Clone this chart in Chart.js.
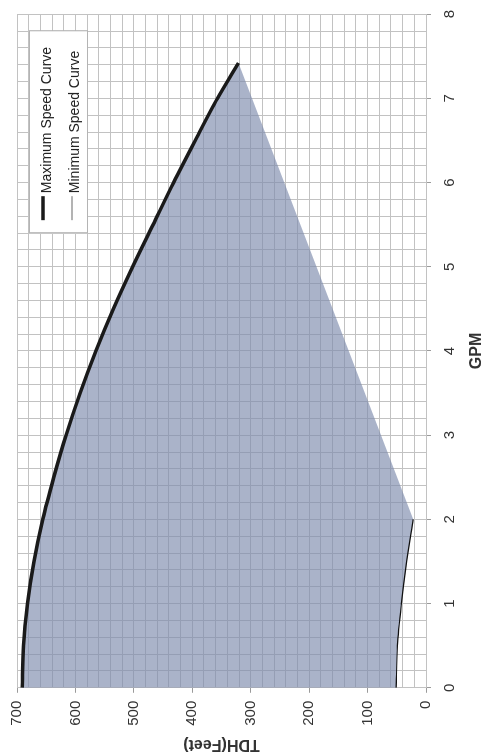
<!DOCTYPE html>
<html>
<head>
<meta charset="utf-8">
<title>Pump curve</title>
<script src="https://cdn.jsdelivr.net/npm/chart.js@4/dist/chart.umd.min.js"></script>
<style>
  html, body { margin: 0; padding: 0; background: #fff; overflow: hidden; }
  /* chart is drawn landscape, then turned a quarter to the left */
  #wrap {
    position: absolute; left: 0; top: 0; width: 755px; height: 485px;
    transform-origin: 0 0; transform: translate(0, 755px) rotate(-90deg);
  }
</style>
</head>
<body>
<div id="wrap"><canvas id="pumpChart" width="755" height="485"></canvas></div>
<script>
// data
const maxGpm = [0, 0.5, 1, 1.5, 2, 2.5, 3, 3.5, 4, 4.5, 5, 5.5, 6, 6.5, 7, 7.42];
const maxTdh = [691, 689, 682, 671, 656, 637, 616, 592, 565, 535, 502, 467, 432, 395, 357, 321];
const minGpm = [0, 0.5, 1, 1.5, 2];
const minTdh = [51, 49, 42, 33, 22];
const seriesLabels = ["Maximum Speed Curve", "Minimum Speed Curve"];
const gpmTicks = [0, 1, 2, 3, 4, 5, 6, 7, 8];
const tdhTicks = [0, 100, 200, 300, 400, 500, 600, 700];

const FONT = '"Liberation Sans", Arial, sans-serif';
const GRID = "#c2c2c2";

const toPoints = (xs, ys) => xs.map((x, i) => ({ x: x, y: ys[i] }));
const maxPts = toPoints(maxGpm, maxTdh);
const minPts = toPoints(minGpm, minTdh);
// operating region: along min curve, straight up to the end of max curve, back along max curve
const regionPts = minPts.concat(maxPts.slice().reverse());

const isMajor = (v, list) => list.some((t) => Math.abs(t - v) < 1e-6);

const legendBox = {
  id: "legendBox",
  afterDatasetsDraw(chart) {
    const { ctx, chartArea } = chart;
    const w = 202, h = 58;
    const x = chartArea.right - 17 - w;
    const y = chartArea.top + 12;
    ctx.save();
    ctx.fillStyle = "#fff";
    ctx.fillRect(x, y, w, h);
    ctx.strokeStyle = "#b4b4b4";
    ctx.lineWidth = 1;
    ctx.strokeRect(x + 0.5, y + 0.5, w, h);
    const styles = [
      { color: "#1a1a1a", width: 3.5 },
      { color: "#808080", width: 1.2 },
    ];
    ctx.font = "14px " + FONT;
    ctx.textBaseline = "middle";
    seriesLabels.forEach((lbl, i) => {
      const ly = y + 14 + i * 29;
      ctx.strokeStyle = styles[i].color;
      ctx.lineWidth = styles[i].width;
      ctx.beginPath();
      ctx.moveTo(x + 13, ly);
      ctx.lineTo(x + 37, ly);
      ctx.stroke();
      ctx.fillStyle = "#222";
      ctx.fillText(lbl, x + 40, y + 18 + i * 28);
    });
    ctx.restore();
  },
};

new Chart(document.getElementById("pumpChart"), {
  type: "scatter",
  data: {
    datasets: [
      {
        label: seriesLabels[0],
        data: maxPts,
        showLine: true,
        borderColor: "#1a1a1a",
        borderWidth: 3.5,
        pointRadius: 0,
        tension: 0.3,
        fill: false,
      },
      {
        label: seriesLabels[1],
        data: minPts,
        showLine: true,
        borderColor: "#111",
        borderWidth: 1.2,
        pointRadius: 0,
        tension: 0.3,
        fill: false,
      },
      {
        label: "region",
        data: regionPts,
        showLine: true,
        borderWidth: 0,
        borderColor: "rgba(0,0,0,0)",
        backgroundColor: "rgba(125,138,172,0.65)",
        pointRadius: 0,
        tension: 0,
        fill: "shape",
      },
    ],
  },
  options: {
    responsive: false,
    animation: false,
    layout: { padding: { top: 7, right: 8, bottom: 0, left: 0 } },
    plugins: {
      legend: { display: false },
      tooltip: { enabled: false },
    },
    scales: {
      x: {
        type: "linear",
        min: 0,
        max: 8,
        border: { color: GRID },
        grid: {
          color: GRID,
          tickLength: 5,
          tickColor: (c) => (c.tick && isMajor(c.tick.value, gpmTicks) ? "#9a9a9a" : "rgba(0,0,0,0)"),
        },
        ticks: {
          stepSize: 0.2,
          autoSkip: false,
          maxRotation: 0,
          padding: 10,
          color: "#333",
          font: { family: FONT, size: 15 },
          callback: (v) => (isMajor(v, gpmTicks) ? Math.round(v) : ""),
        },
        title: {
          display: true,
          text: "GPM",
          color: "#333",
          font: { family: FONT, size: 16, weight: "bold", lineHeight: 1 },
          padding: { top: 0, bottom: 0 },
        },
      },
      y: {
        type: "linear",
        min: 0,
        max: 700,
        border: { color: GRID },
        grid: {
          color: GRID,
          tickLength: 5,
          tickColor: (c) => (c.tick && isMajor(c.tick.value, tdhTicks) ? "#9a9a9a" : "rgba(0,0,0,0)"),
        },
        ticks: {
          stepSize: 20,
          autoSkip: false,
          padding: 8,
          color: "#333",
          font: { family: FONT, size: 15 },
          callback: (v) => (isMajor(v, tdhTicks) ? Math.round(v) : ""),
        },
        title: {
          display: true,
          text: "TDH(Feet)",
          color: "#333",
          font: { family: FONT, size: 16, weight: "bold" },
          padding: { top: 1, bottom: 1 },
        },
      },
    },
  },
  plugins: [legendBox],
});
</script>
</body>
</html>
